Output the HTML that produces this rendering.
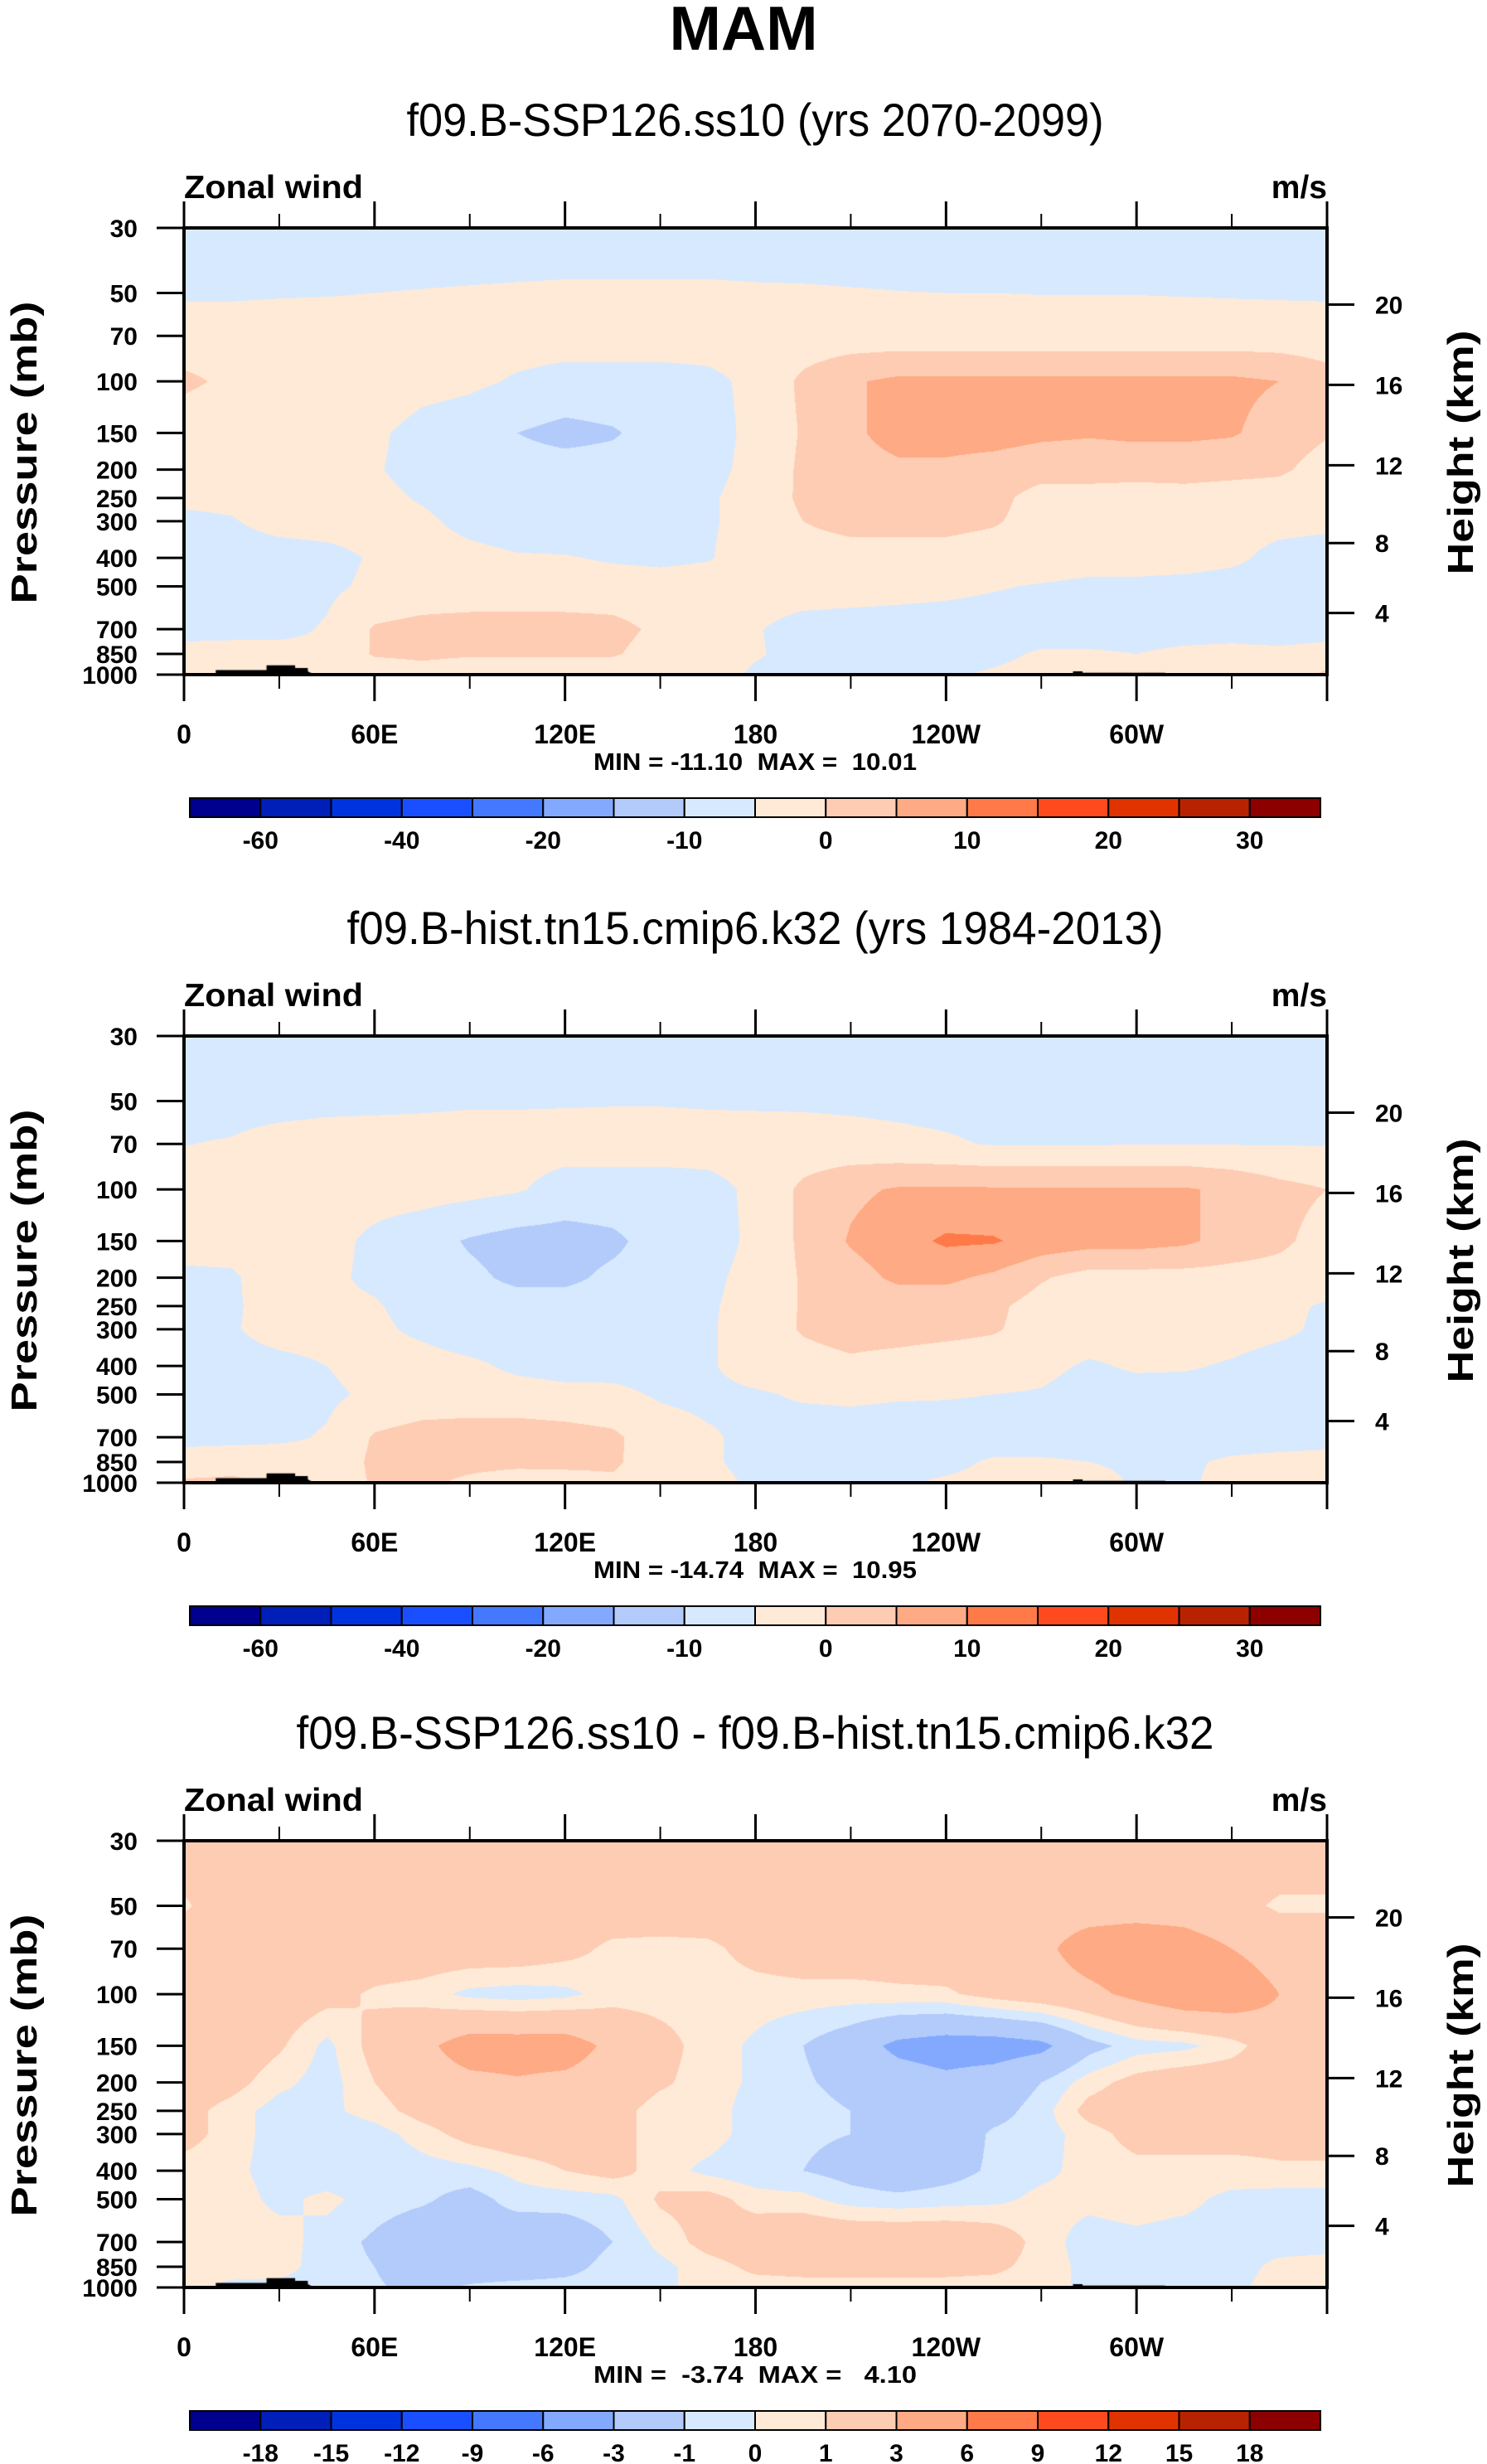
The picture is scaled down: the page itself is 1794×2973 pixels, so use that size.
<!DOCTYPE html>
<html><head><meta charset="utf-8"><title>MAM Zonal wind</title>
<style>
html,body{margin:0;padding:0;background:#fff;}
#root{position:relative;width:1794px;height:2973px;overflow:hidden;background:#fff;}
canvas{position:absolute;}
svg{position:absolute;left:0;top:0;}
text{font-family:"Liberation Sans",sans-serif;fill:#000;}
</style></head>
<body>
<div id="root">
<svg id="svg" width="1794" height="2973">
<text x="897" y="60" text-anchor="middle" font-size="75" font-weight="bold">MAM</text>
</svg>
</div>
<script>
// ---- data ----
const lons=[0,15,30,45,60,75,90,105,120,135,150,165,180,195,210,225,240,255,270,285,300,315,330,345,360];
const levels=[30,50,70,100,150,200,250,300,400,500,700,850,1000];
const m3=[-3,-3,-3,-3,-3,-3,-3,-3,-3,-3,-3,-3,-3,-3,-3,-3,-3,-3,-3,-3,-3,-3,-3,-3,-3];
const p2=[2,2,2,2,2,2,2,2,2,2,2,2,2,2,2,2,2,2,2,2,2,2,2,2,2];
const panel1U=[
m3,
[-0.5,-0.5,-0.3,-0.2,0,0.2,0.4,0.6,0.8,0.8,0.8,0.8,0.6,0.5,0.3,0.1,0,0,-0.1,-0.1,-0.1,-0.2,-0.3,-0.4,-0.5],
p2,
[6,4,2,4,4,2,1,-0.5,-1.5,-1.5,-1.5,-1,1,6,9.5,11,11,11,11,11,11,11,11,10,7],
[2,2,2,2,1,-2,-3,-5,-6.5,-5.5,-3,-1.5,1,5.5,9,12,12,12,11,10.5,11,11,10.5,8,5.5],
[2,2,2,2,0.5,-2,-3,-3,-3,-3,-2,-1,1,6,8,9,9,8,7,7,7,7,6.5,6,2.5],
[1,1,2,2,1.5,-0.5,-2.5,-3,-3,-3,-2,-0.5,1.5,6,7,7.5,7,6.5,3,3,2.5,3,2.5,2,1],
[-1,-0.3,1.5,2,2,1,-1.5,-3,-3,-3,-2.5,-0.5,1.5,5,6.5,6.5,6.5,5.5,3,2,2,2,2,1.5,1],
[-2,-2,-2,-1.5,0.5,2,1.5,0.5,0.3,-0.5,-1,-0.3,2,3,3,3,3,2.5,2.5,2,2,2,1,-1.5,-2],
[-2,-2,-2,-1,1,2,2,2,2,2,2,2,2,2,2,1.5,1,0.3,-0.3,-1,-1,-1.5,-2,-2,-2],
[-2,-2,-1.5,0.5,5.5,6.5,7,7,7,6.5,4,1,0.3,-1.5,-2,-2,-2,-2,-2,-2,-2,-2,-2,-3,-2],
[2,2.5,2,1,5.5,6,5.5,5.5,5.5,5.5,3,1.5,0.3,-1,-1.5,-1.5,-1.5,-1,0.5,0.5,0,1,1.5,1.5,2],
[5.5,3,2.5,2,2,3,2,2,2,2,2,1.5,-0.5,-1,-1,-1,-0.5,0.5,1.5,1,1,1.5,1.5,2,6]];
const panel2U=[
m3,
[-1.5,-1.5,-1.5,-1.2,-1,-0.8,-0.5,-0.5,-0.4,-0.3,-0.3,-0.5,-0.6,-0.7,-0.8,-1,-1.3,-1.5,-1.5,-1.5,-1.5,-1.5,-1.5,-1.5,-1.5],
[-0.1,0.3,1.5,2,2,2,2,2,2,2,2,2,2,2,1.5,1,0.5,-0.3,-0.3,-0.3,-0.2,-0.2,-0.2,-0.2,-0.3],
[2,2,2,2,2,2,1.5,0.5,-2,-2,-2,-1.5,1,6,9,10.5,10.5,10.5,10.5,10.5,10.5,10.5,9,6.5,5],
[2,1.5,2,1.5,-1,-3,-5.5,-7,-7,-6,-3,-2,1,6,10.5,13,15.8,15.5,13,12,12,11,8,6,3],
[-1,-0.5,2,1,-1,-3,-4,-6,-6,-4,-3,-1,1.5,5.5,8,11,11,9,5.5,3,3,3,3,3,2],
[-2,-0.5,1.5,1,0.5,-2,-3,-3,-3,-3,-2,-0.5,1.5,5.5,7,7,7,6,3,2,2,2,2,1,-0.5],
[-2,-0.5,2,2,1,-1,-3,-3,-3,-3,-2,-0.5,2,5.5,7,7,6.5,5.5,3,2,2,2,2,1,-1],
[-2,-2,-1.5,0,2,2,1,-1,-2,-1.5,-1.5,-0.5,2,3,4,3,2,2,1,-0.5,0.5,0.5,-0.5,-2,-2],
[-2,-2,-2,-1,1,2,2,2,1.5,1,-0.5,-1,-0.5,0.5,0.8,0.5,0.3,0,-0.3,-1.5,-1.5,-2,-2,-2,-2],
[-2,-2,-1,0.5,5.5,7,7.5,7.5,7,6,2,0.5,-1,-2,-2,-2.5,-2,-2,-2,-2,-1.5,-1.5,-1.5,-1.5,-1.5],
[3,4,3,1.5,6,6.5,6.5,6.5,6.5,6,1.5,0.5,-1,-1.5,-1.5,-1,-1,0.5,0.5,0,-0.5,-0.5,0.5,1,1.5],
[5.5,5.5,5,2,5.5,6,4,2,2.5,4,2,1,-0.5,-1,-1,-0.5,0.5,1,1,1,-0.3,-0.5,1,1.5,5]];
const panel3U=[
p2,
[0.8,2,2,2,2,2,2,2,2,2,2,2,2,2,2,2,2,2,2,2,2,2,1.5,0.8,0.8],
[2,2,2,2,2,2,2,2,1.5,0.7,0.6,0.7,1.5,2,2,2,2,2,2.5,4,4.5,4,3,2,2],
[2,2,2,1.5,0.8,0.5,-0.3,-0.5,-0.3,0.5,0.5,0.5,0.5,0.5,0.5,0.7,0.8,1.5,2,2.5,3.5,4.5,4.5,3,2],
[2,2,1.2,-0.3,1.5,2.5,4,4,4,2.5,1.5,0.5,-0.2,-1,-2,-3.5,-4,-4,-3.5,-1.5,-0.5,-0.3,0.5,2,2],
[2,1.5,0.3,-0.5,1,2,2.5,2.8,2.5,2,1.2,0.5,-0.2,-0.8,-1.5,-2,-2.5,-2,-1,0.5,1.5,2,2,2,2],
[1.5,0.5,-0.5,-0.3,0.5,1.5,2,2,2,1.5,0.5,0.5,-0.5,-0.5,-1,-2,-2,-1.5,-0.5,1.5,2,2,2,2,2],
[1.5,0.5,-0.5,-0.8,-0.5,0.5,1.5,2,2,1.5,0.5,0.5,-0.5,-0.8,-1,-2,-2,-0.8,-0.5,0.5,1.5,1.5,1.5,1.5,1.5],
[0.5,0.3,-0.5,-0.8,-0.8,-0.5,-0.3,0.3,1,1.5,0.5,-0.3,-0.8,-1,-1.5,-2,-1.5,-0.8,-0.3,0.4,0.6,0.6,0.6,0.8,0.8],
[0.5,0.5,-0.3,0.3,-0.5,-0.8,-1.5,-0.5,-0.5,-0.3,1.2,1.5,0.5,0.3,-0.5,-0.7,-0.5,-0.3,0.3,0.3,0.5,0.3,-0.3,-0.5,-0.5],
[0.3,0.5,0.5,-0.5,-1.2,-2,-1.5,-2.2,-2,-1,0.3,1.5,2,2.5,2.5,2.5,2.5,2,0.5,-0.5,-0.3,-0.5,-0.5,-0.5,-0.5],
[0.2,0.5,0.4,-0.5,-1,-2,-2,-2,-1.5,-0.5,-0.3,0.5,1.3,1.5,1.5,1.5,1.5,1.3,0.5,-0.3,-0.5,-0.5,-0.5,0.3,0.5],
[0.5,-0.3,-0.3,-0.5,-0.8,-1.5,-0.8,-0.5,-0.5,-0.5,-0.3,0.5,0.5,0.5,0.5,0.5,0.5,0.5,0.5,-0.3,-0.5,-0.5,-0.3,0.5,0.5]];
const topoLon=[8,10,10,26,26,35,35,39,39,41,280,280,283,283,309,309];
const topoP=[1000,995,965,965,930,930,950,950,975,1000,1000,975,975,985,985,1000];
const subtitles=["f09.B-SSP126.ss10 (yrs 2070-2099)","f09.B-hist.tn15.cmip6.k32 (yrs 1984-2013)","f09.B-SSP126.ss10 - f09.B-hist.tn15.cmip6.k32"];
const minMaxText=["MIN = -11.10  MAX =  10.01","MIN = -14.74  MAX =  10.95","MIN =  -3.74  MAX =   4.10"];
const bounds12=[-60,-50,-40,-30,-20,-15,-10,-5,0,5,10,15,20,25,30];
const bounds3=[-18,-15,-12,-9,-6,-3,-1,0,1,3,6,9,12,15,18];
const cbLabels12=["-60","","-40","","-20","","-10","","0","","10","","20","","30"];
const cbLabels3=["-18","-15","-12","-9","-6","-3","-1","0","1","3","6","9","12","15","18"];
const cbColors=["#00008F","#001EB8","#0033E0","#1A4FFF","#4478FF","#83A9FF","#B3CBFB","#D7E9FE","#FFEAD7","#FECCB3","#FEAA84","#FF7A48","#FF4A1E","#E03300","#B82200","#8C0000"];
const pressureTicks=[30,50,70,100,150,200,250,300,400,500,700,850,1000];
const heightTicks=[4,8,12,16,20];
const lonMajor=[0,60,120,180,240,300,360];
const lonMajorLabels=["0","60E","120E","180","120W","60W",""];
const lonMinor=[30,90,150,210,270,330];

// ---- geometry ----
const X0=222,X1=1601,YT=275,YB=814,W=X1-X0,H=YB-YT,LR=Math.log(1000/30);
const offsets=[0,975,1946];
const subLen=[841,985,1107];
const colorShift=[-1,-1,0];
function xOf(lon){return X0+W*lon/360;}
function yOf(p,off){return off+YT+H*Math.log(p/30)/LR;}
function pOfZ(z){return z<=11?1013.25*Math.pow(1-z/44.33,5.256):226.3*Math.exp(-(z-11)/6.3416);}
const svg=document.getElementById('svg');
const NS='http://www.w3.org/2000/svg';
function el(tag,attrs){const e=document.createElementNS(NS,tag);for(const k in attrs)e.setAttribute(k,attrs[k]);svg.appendChild(e);return e;}
function txt(str,attrs){const e=el('text',attrs);e.textContent=str;return e;}
function hex(c){return [parseInt(c.substr(1,2),16),parseInt(c.substr(3,2),16),parseInt(c.substr(5,2),16)];}
const rgb=cbColors.map(hex);

function drawField(u,bounds,off,idx,shift){
  const cv=document.createElement('canvas');
  cv.width=W;cv.height=H;
  cv.style.left=X0+'px';cv.style.top=(off+YT)+'px';
  
  
  document.getElementById('root').insertBefore(cv,svg);
  const ctx=cv.getContext('2d');
  const img=ctx.createImageData(W,H);
  const lnL=levels.map(Math.log);
  for(let j=0;j<H;j++){
    const lp=Math.log(30)+(j+0.5)/H*LR;
    let k=0;while(k<levels.length-2&&lp>lnL[k+1])k++;
    const t=Math.min(1,Math.max(0,(lp-lnL[k])/(lnL[k+1]-lnL[k])));
    const r0=u[k],r1=u[k+1];
    for(let i=0;i<W;i++){
      const lon=(i+0.5)/W*360;
      let c=Math.min(lons.length-2,Math.floor(lon/15));
      const s=(lon-lons[c])/(lons[c+1]-lons[c]);
      const a=r0[c]*(1-s)+r0[c+1]*s, b=r1[c]*(1-s)+r1[c+1]*s;
      const v=a*(1-t)+b*t;
      let ci=0;while(ci<bounds.length&&v>=bounds[ci])ci++;
      ci=Math.max(0,Math.min(15,ci+shift));
      const col=rgb[ci];const o=(j*W+i)*4;
      img.data[o]=col[0];img.data[o+1]=col[1];img.data[o+2]=col[2];img.data[o+3]=255;
    }
  }
  ctx.putImageData(img,0,0);
  ctx.fillStyle='#000';ctx.beginPath();
  for(let n=0;n<topoLon.length;n++){
    const x=xOf(topoLon[n])-X0,y=yOf(topoP[n],0)-YT;
    if(n===0||n===10)ctx.moveTo(x,y);else ctx.lineTo(x,y);
    if(n===9||n===15)ctx.closePath();
  }
  ctx.fill();
}

const fields=[panel1U,panel2U,panel3U];
for(let pi=0;pi<3;pi++){
  const off=offsets[pi];
  const bounds=pi<2?bounds12:bounds3;
  const labels=pi<2?cbLabels12:cbLabels3;
  drawField(fields[pi],bounds,off,pi,colorShift[pi]);
  let t=txt(subtitles[pi],{x:911,y:off+164,'text-anchor':'middle','font-size':56,textLength:subLen[pi],lengthAdjust:'spacingAndGlyphs'});
  
  
  t=txt('Zonal wind',{x:X0,y:off+239,'font-size':39,'font-weight':'bold',textLength:216,lengthAdjust:'spacingAndGlyphs'});
  
  
  t=txt('m/s',{x:X1,y:off+239,'text-anchor':'end','font-size':39,'font-weight':'bold'});
  
  
  let r=el('rect',{x:X0,y:off+YT,width:W,height:H,fill:'none',stroke:'#000','stroke-width':4});
  
  
  for(let i=0;i<lonMajor.length;i++){
    const x=xOf(lonMajor[i]);
    let l=el('line',{x1:x,x2:x,y1:off+YT,y2:off+YT-32,stroke:'#000','stroke-width':3});
    
    
    l=el('line',{x1:x,x2:x,y1:off+YB,y2:off+YB+32,stroke:'#000','stroke-width':3});
    
    
    if(lonMajorLabels[i]){
      t=txt(lonMajorLabels[i],{x:x,y:off+897,'text-anchor':'middle','font-size':32,'font-weight':'bold'});
      
      
    }
  }
  for(const lo of lonMinor){
    const x=xOf(lo);
    let l=el('line',{x1:x,x2:x,y1:off+YT,y2:off+YT-17,stroke:'#000','stroke-width':2});
    
    
    l=el('line',{x1:x,x2:x,y1:off+YB,y2:off+YB+17,stroke:'#000','stroke-width':2});
    
    
  }
  for(const p of pressureTicks){
    const y=yOf(p,off);
    let l=el('line',{x1:X0,x2:X0-33,y1:y,y2:y,stroke:'#000','stroke-width':3});
    
    
    t=txt(String(p),{x:166,y:y+11,'text-anchor':'end','font-size':30,'font-weight':'bold'});
    
    
  }
  for(const z of heightTicks){
    const y=yOf(pOfZ(z),off);
    let l=el('line',{x1:X1,x2:X1+33,y1:y,y2:y,stroke:'#000','stroke-width':3});
    
    
    t=txt(String(z),{x:1659,y:y+11,'font-size':30,'font-weight':'bold'});
    
    
  }
  t=txt('Pressure (mb)',{x:0,y:0,'text-anchor':'middle','font-size':44,'font-weight':'bold',textLength:365,lengthAdjust:'spacingAndGlyphs',transform:'translate(44,'+(off+546)+') rotate(-90)'});
  
  
  t=txt('Height (km)',{x:0,y:0,'text-anchor':'middle','font-size':44,'font-weight':'bold',textLength:295,lengthAdjust:'spacingAndGlyphs',transform:'translate(1777,'+(off+546)+') rotate(-90)'});
  
  
  t=txt(minMaxText[pi],{x:911,y:off+929,'text-anchor':'middle','font-size':29,'font-weight':'bold','xml:space':'preserve',style:'white-space:pre',textLength:390,lengthAdjust:'spacingAndGlyphs'});
  
  
  const cbX=229,cbW=1364,bw=cbW/16,cbY=off+963;
  for(let i=0;i<16;i++){
    r=el('rect',{x:cbX+i*bw,y:cbY,width:bw,height:23,fill:cbColors[i],stroke:'#000','stroke-width':2});
    
    
  }
  for(let i=0;i<labels.length;i++){
    if(!labels[i])continue;
    t=txt(labels[i],{x:cbX+(i+1)*bw,y:off+1024,'text-anchor':'middle','font-size':30,'font-weight':'bold'});
    
    
  }
}
</script>
</body></html>
